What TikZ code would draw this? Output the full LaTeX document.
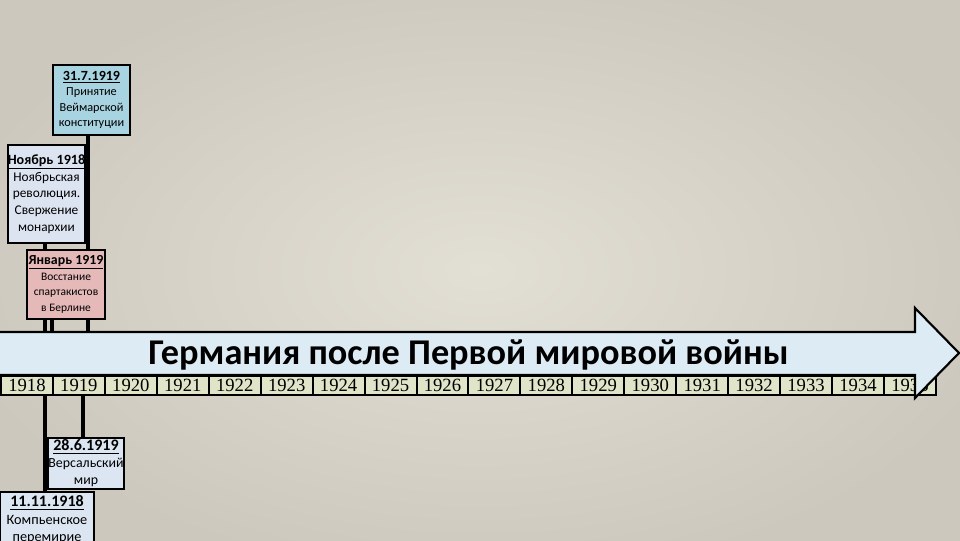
\documentclass[tikz,border=0pt]{standalone}
\usepackage{fontspec}
\setmainfont{Carlito}
\newfontfamily\yearfont{Liberation Serif}
\definecolor{bgin}{HTML}{E2DFD5}
\definecolor{bgout}{HTML}{CDC8BD}
\definecolor{arrowfill}{HTML}{DCEBF4}
\definecolor{yearfill}{HTML}{E0E4C8}
\definecolor{fillA}{HTML}{A8D3E1}
\definecolor{fillB}{HTML}{DDE4F1}
\definecolor{fillC}{HTML}{E6B9B9}
\definecolor{fillD}{HTML}{DCE6F2}
\begin{document}
\begin{tikzpicture}[x=0.75pt,y=-0.75pt,
  evbox/.style={draw=black, line width=1.6pt, inner sep=0pt, align=center, anchor=center},
  conn/.style={line width=2.6pt, black},
  yearcell/.style={draw=black, line width=1.5pt, fill=yearfill, inner sep=0pt,
     minimum width=38.96pt, minimum height=14.25pt, anchor=north west,
     font=\yearfont\fontsize{14}{15}\selectfont}
]
\useasboundingbox (0,0) rectangle (960,540);
\clip (0,0) rectangle (960,540);
\shade[inner color=bgin, outer color=bgout] (-60,-40) rectangle (1020,580);

% event boxes (positions only; drawn later)
\path
  node[evbox, minimum width=57.75pt, minimum height=52.5pt] (b1) at (91.5,100) {}
  node[evbox, minimum width=57.75pt, minimum height=73.5pt] (b2) at (46.5,194) {}
  node[evbox, minimum width=58.5pt, minimum height=51.75pt] (b3) at (66,284.5) {}
  node[evbox, minimum width=57pt, minimum height=38.25pt] (b4) at (86,463.5) {}
  node[evbox, minimum width=70.5pt, minimum height=42pt] (b5) at (47,520) {};

% connector anchor points on the time axis
\coordinate (a1) at (88,332);
\coordinate (a2) at (45,332);
\coordinate (a3) at (52,332);
\coordinate (c4) at (45,394);
\coordinate (c5) at (83,394);

% connectors (behind boxes)
\draw[conn] (a1 |- b1.south) -- (a1);
\draw[conn] (a2 |- b2.south) -- (a2);
\draw[conn] (a3 |- b3.south) -- (a3);
\draw[conn] (c4) -- (c4 |- b5.north);
\draw[conn] (c5) -- (c5 |- b4.north);

% boxes on top of connectors
\node[evbox, fill=fillA, minimum width=57.75pt, minimum height=52.5pt,
       font=\fontsize{9.2}{11.5}\selectfont] (b1t) at (b1)
    {\underline{\textbf{\fontsize{10.5}{11.5}\selectfont 31.7.1919}}\\Принятие\\Веймарской\\конституции};
\node[evbox, fill=fillB, minimum width=57.75pt, minimum height=73.5pt,
       font=\fontsize{10}{12.6}\selectfont] (b2t) at (b2)
    {\underline{\textbf{\fontsize{10.6}{12.6}\selectfont Ноябрь 1918}}\\Ноябрьская\\революция.\\Свержение\\монархии};
\node[evbox, fill=fillC, minimum width=58.5pt, minimum height=51.75pt,
       font=\fontsize{8.6}{11.8}\selectfont] (b3t) at (b3)
    {\underline{\textbf{\fontsize{10.4}{11.8}\selectfont Январь 1919}}\\Восстание\\спартакистов\\в Берлине};
\node[evbox, fill=fillD, minimum width=57pt, minimum height=38.25pt,
       font=\fontsize{10.4}{12.8}\selectfont] (b4t) at (b4)
    {\underline{\textbf{\fontsize{12}{12.8}\selectfont 28.6.1919}}\\Версальский\\мир};
\node[evbox, fill=fillD, minimum width=70.5pt, minimum height=42pt,
       font=\fontsize{10.7}{13.2}\selectfont] (b5t) at (b5)
    {\underline{\textbf{\fontsize{12}{13.2}\selectfont 11.11.1918}}\\Компьенское\\перемирие};

% year strip
\foreach \i in {0,...,17} {
  \pgfmathtruncatemacro{\yr}{1918+\i}
  \node[yearcell] (y\yr) at ({\i*51.94},375) {\yr};
}

% timeline arrow
\draw[line width=1.6pt, fill=arrowfill, line join=miter]
  (-5,332) -- (915,332) -- (915,308) -- (959,353) -- (915,398) -- (915,375) -- (-5,375) -- cycle;
\node[font=\bfseries\fontsize{27.2}{33}\selectfont, inner sep=0pt] (title) at (468.5,355)
  {Германия после Первой мировой войны};
\end{tikzpicture}
\end{document}
